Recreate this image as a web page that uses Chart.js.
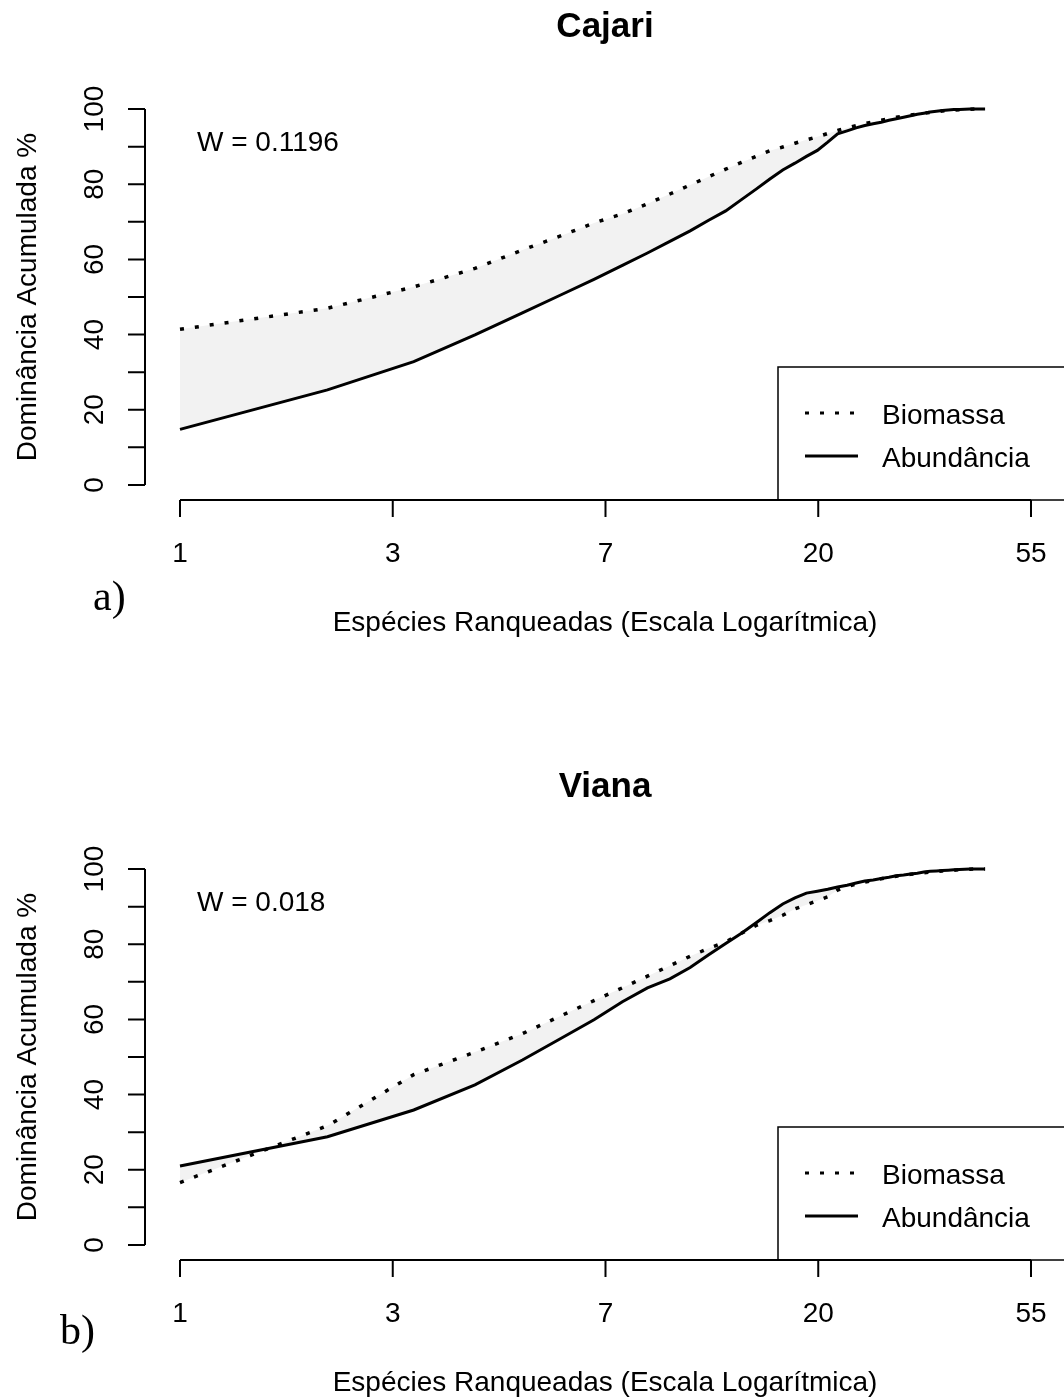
<!DOCTYPE html>
<html>
<head>
<meta charset="utf-8">
<script src="https://cdn.jsdelivr.net/npm/chart.js@4/dist/chart.umd.min.js"></script>
<style>
  body { margin: 0; background: #fff; width: 1064px; height: 1400px; position: relative; overflow: hidden; }
  canvas { position: absolute; left: 0; }
</style>
</head>
<body>
<canvas id="chartCajari" width="1064" height="640" style="top:0px"></canvas>
<canvas id="chartViana" width="1064" height="640" style="top:760px"></canvas>
<script>
// ranked species (x, shown on a log axis)
const ranks = [1, 2, 3, 4, 5, 6, 7, 8, 9, 10, 11, 12, 13, 14, 15, 16, 17, 18, 19, 20, 21, 22,
  23, 24, 25, 26, 27, 28, 29, 30, 31, 32, 33, 34, 35, 36, 37, 38, 39, 40, 41, 42, 43, 44];

// cumulative dominance %
const cajariBiomassa = [41.4, 47.0, 52.7, 57.6, 62.5, 66.3, 69.7, 72.1, 74.8, 77.4, 79.8, 82.0, 84.0, 85.8,
  87.4, 88.9, 89.9, 90.9, 91.8, 92.6, 93.5, 94.3, 95.0, 95.6, 96.1, 96.6, 97.0, 97.4, 97.8, 98.1, 98.4,
  98.7, 98.9, 99.1, 99.3, 99.5, 99.6, 99.7, 99.8, 99.9, 99.95, 100, 100, 100];
const cajariAbundancia = [14.8, 25.3, 32.8, 39.9, 45.8, 50.6, 54.7, 58.4, 61.7, 64.8, 67.6, 70.4, 72.9, 75.9,
  78.7, 81.4, 83.8, 85.6, 87.4, 89.0, 91.2, 93.4, 94.2, 95.0, 95.6, 96.1, 96.5, 97.0, 97.4, 97.8, 98.2,
  98.6, 98.9, 99.2, 99.4, 99.6, 99.75, 99.85, 99.9, 99.95, 100, 100, 100, 100];
const vianaBiomassa = [16.6, 31.7, 45.3, 51.3, 56.2, 61.0, 65.0, 68.4, 71.5, 74.3, 76.8, 78.9, 80.6, 82.9,
  85.0, 86.3, 87.7, 89.4, 90.5, 91.6, 92.6, 94.4, 95.3, 96.0, 96.5, 97.0, 97.4, 97.8, 98.1, 98.4, 98.6,
  98.8, 99.0, 99.2, 99.3, 99.5, 99.6, 99.7, 99.8, 99.9, 99.95, 100, 100, 100];
const vianaAbundancia = [21.0, 28.8, 35.9, 42.6, 49.2, 55.0, 59.9, 64.7, 68.4, 70.8, 73.8, 77.2, 80.2, 82.9,
  85.7, 88.4, 90.7, 92.3, 93.6, 94.1, 94.6, 95.2, 95.7, 96.3, 96.8, 97.1, 97.5, 97.8, 98.2, 98.4, 98.7,
  98.9, 99.2, 99.4, 99.5, 99.6, 99.7, 99.8, 99.9, 99.95, 100, 100, 100, 100];

// axis ticks: x ticks sit at e^0..e^4, labelled rounded
const xTickLabels = ['1', '3', '7', '20', '55'];
const yTicks = [0, 10, 20, 30, 40, 50, 60, 70, 80, 90, 100];
const yTickLabels = ['0', '20', '40', '60', '80', '100'];

const SANS = '"Liberation Sans", Arial, sans-serif';
const SERIF = '"Liberation Serif", "Times New Roman", serif';

// R-style axes, title, legend and annotations
const rAxes = {
  id: 'rAxes',
  afterDraw(chart, args, o) {
    const ctx = chart.ctx;
    const xs = chart.scales.x, ys = chart.scales.y, area = chart.chartArea;
    const midX = (area.left + area.right + 1) / 2;
    ctx.save();
    ctx.strokeStyle = '#000';
    ctx.fillStyle = '#000';
    ctx.lineWidth = 2;

    // y axis
    const ax = area.left;
    ctx.beginPath();
    ctx.moveTo(ax, ys.getPixelForValue(0));
    ctx.lineTo(ax, ys.getPixelForValue(100));
    yTicks.forEach(function(v) {
      const p = ys.getPixelForValue(v);
      ctx.moveTo(ax, p);
      ctx.lineTo(ax - 17, p);
    });
    ctx.stroke();
    ctx.font = '28px ' + SANS;
    ctx.textAlign = 'center';
    ctx.textBaseline = 'alphabetic';
    yTickLabels.forEach(function(t) {
      const p = ys.getPixelForValue(Number(t));
      ctx.save();
      ctx.translate(ax - 42, p);
      ctx.rotate(-Math.PI / 2);
      ctx.fillText(t, 0, 0);
      ctx.restore();
    });

    // x axis
    const by = area.bottom;
    ctx.beginPath();
    ctx.moveTo(xs.getPixelForValue(Math.exp(0)), by);
    ctx.lineTo(xs.getPixelForValue(Math.exp(xTickLabels.length - 1)), by);
    xTickLabels.forEach(function(t, i) {
      const p = xs.getPixelForValue(Math.exp(i));
      ctx.moveTo(p, by);
      ctx.lineTo(p, by + 17);
    });
    ctx.stroke();
    xTickLabels.forEach(function(t, i) {
      ctx.fillText(t, xs.getPixelForValue(Math.exp(i)), by + 62);
    });

    // axis titles
    ctx.fillText('Espécies Ranqueadas (Escala Logarítmica)', midX, by + 131);
    ctx.save();
    ctx.translate(36, (area.top + area.bottom) / 2);
    ctx.rotate(-Math.PI / 2);
    ctx.fillText('Dominância Acumulada %', 0, 0);
    ctx.restore();

    // main title
    ctx.font = 'bold 35px ' + SANS;
    ctx.fillText(o.title, midX, 37);

    // W statistic
    ctx.font = '28px ' + SANS;
    ctx.textAlign = 'left';
    ctx.fillText(o.wText, 197, 151);

    // legend
    ctx.lineWidth = 1.5;
    ctx.strokeRect(778, 367, 320, by - 367);
    ctx.lineWidth = 3;
    ctx.setLineDash([4, 11]);
    ctx.beginPath();
    ctx.moveTo(805, 413);
    ctx.lineTo(857, 413);
    ctx.stroke();
    ctx.setLineDash([]);
    ctx.beginPath();
    ctx.moveTo(805, 456);
    ctx.lineTo(858, 456);
    ctx.stroke();
    ctx.fillText(chart.data.datasets[0].label, 882, 424);
    ctx.fillText(chart.data.datasets[1].label, 882, 467);

    // panel tag
    ctx.font = '42px ' + SERIF;
    ctx.fillText(o.tag, o.tagX, o.tagY);
    ctx.restore();
  }
};

function makeChart(id, bio, abu, opts) {
  return new Chart(document.getElementById(id), {
    type: 'line',
    data: {
      datasets: [{
        label: 'Biomassa',
        data: ranks.map(function(r, i) { return { x: r, y: bio[i] }; }),
        borderColor: '#000',
        borderWidth: 3.5,
        borderDash: [4, 11],
        pointRadius: 0,
        fill: false,
        tension: 0
      }, {
        label: 'Abundância',
        data: ranks.map(function(r, i) { return { x: r, y: abu[i] }; }),
        borderColor: '#000',
        borderWidth: 3,
        pointRadius: 0,
        fill: 0,
        backgroundColor: '#f2f2f2',
        tension: 0
      }]
    },
    options: {
      responsive: false,
      animation: false,
      events: [],
      layout: { padding: { left: 145, right: 0, top: 94, bottom: 140 } },
      scales: {
        x: { type: 'logarithmic', min: 0.8483, max: 63.76, display: false },
        y: { type: 'linear', min: -4, max: 104, display: false }
      },
      plugins: {
        legend: { display: false },
        tooltip: { enabled: false },
        rAxes: opts
      }
    },
    plugins: [rAxes]
  });
}

makeChart('chartCajari', cajariBiomassa, cajariAbundancia,
  { title: 'Cajari', wText: 'W = 0.1196', tag: 'a)', tagX: 93, tagY: 610 });
makeChart('chartViana', vianaBiomassa, vianaAbundancia,
  { title: 'Viana', wText: 'W = 0.018', tag: 'b)', tagX: 60, tagY: 584 });
</script>
</body>
</html>
